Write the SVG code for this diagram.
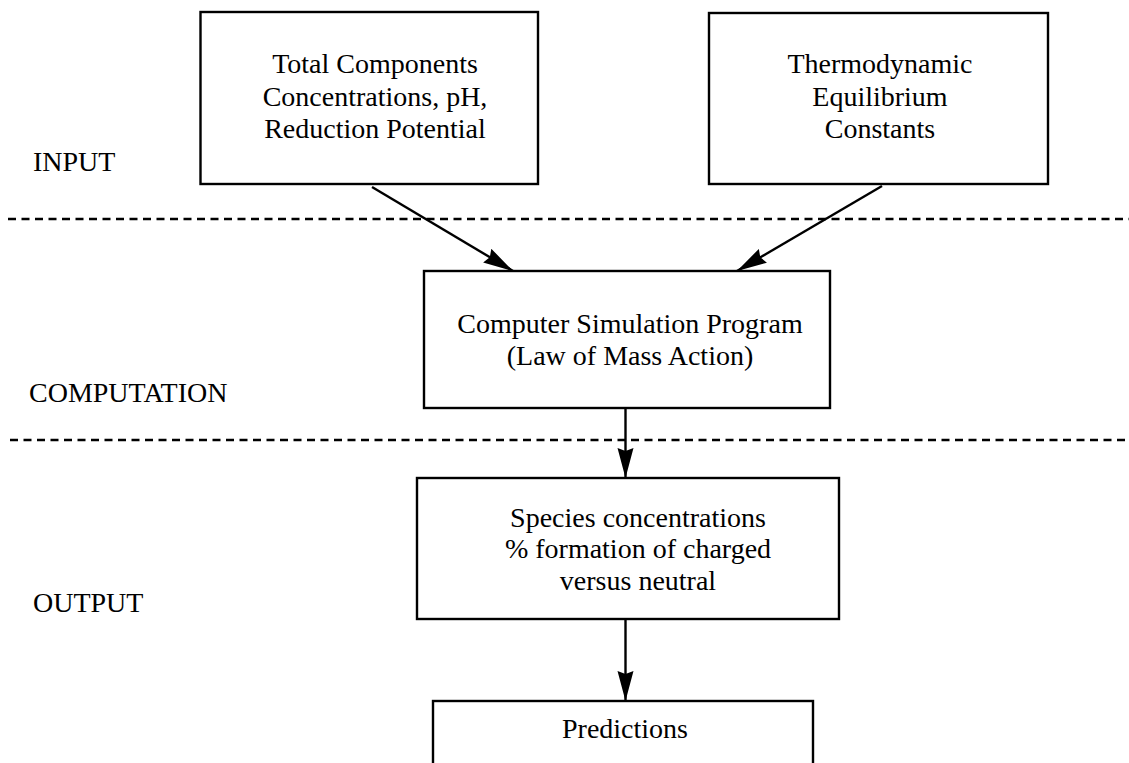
<svg xmlns="http://www.w3.org/2000/svg" width="1129" height="763" viewBox="0 0 1129 763">
<defs>
<marker id="ah" markerUnits="userSpaceOnUse" markerWidth="32" markerHeight="18" refX="30" refY="8" orient="auto">
<path d="M0,0 L30,8 L0,16 L3,8 z" fill="#000"/>
</marker>
<style>
.box{fill:#fff;stroke:#000;stroke-width:2.4}
.t{font-family:"Liberation Serif","Times New Roman",serif;font-size:28px;fill:#000}
.c{text-anchor:middle}
.dash{stroke:#000;stroke-width:2.6;stroke-dasharray:8 5.5;fill:none}
.conn{stroke:#000;stroke-width:2.4;fill:none;marker-end:url(#ah)}
</style>
</defs>
<rect width="1129" height="763" fill="#fff"/>
<g id="separators">
<line class="dash" x1="8" y1="219" x2="1129" y2="219"/>
<line class="dash" x1="10" y1="440" x2="1129" y2="440"/>
</g>
<g id="labels">
<text class="t" x="33" y="171">INPUT</text>
<text class="t" x="29" y="402">COMPUTATION</text>
<text class="t" x="33" y="612">OUTPUT</text>
</g>
<g id="node-inputs">
<rect class="box" x="200.5" y="12" width="337.5" height="172"/>
<text class="t c" x="375" y="73">Total Components</text>
<text class="t c" x="375" y="105.5">Concentrations, pH,</text>
<text class="t c" x="375" y="138">Reduction Potential</text>
</g>
<g id="node-constants">
<rect class="box" x="709" y="13" width="339" height="171"/>
<text class="t c" x="880" y="73">Thermodynamic</text>
<text class="t c" x="880" y="105.5">Equilibrium</text>
<text class="t c" x="880" y="138">Constants</text>
</g>
<g id="node-program">
<rect class="box" x="424" y="271" width="406" height="137"/>
<text class="t c" x="630" y="333">Computer Simulation Program</text>
<text class="t c" x="630" y="365">(Law of Mass Action)</text>
</g>
<g id="node-species">
<rect class="box" x="417" y="478" width="422" height="141"/>
<text class="t c" x="638" y="527">Species concentrations</text>
<text class="t c" x="638" y="558">% formation of charged</text>
<text class="t c" x="638" y="590">versus neutral</text>
</g>
<g id="node-predictions">
<rect class="box" x="433" y="701" width="380" height="80"/>
<text class="t c" x="625" y="738">Predictions</text>
</g>
<g id="connectors">
<line class="conn" x1="372" y1="187" x2="513" y2="271"/>
<line class="conn" x1="882" y1="186" x2="737" y2="271"/>
<line class="conn" x1="625.5" y1="408" x2="625.5" y2="478"/>
<line class="conn" x1="625.5" y1="619" x2="625.5" y2="701"/>
</g>
</svg>
